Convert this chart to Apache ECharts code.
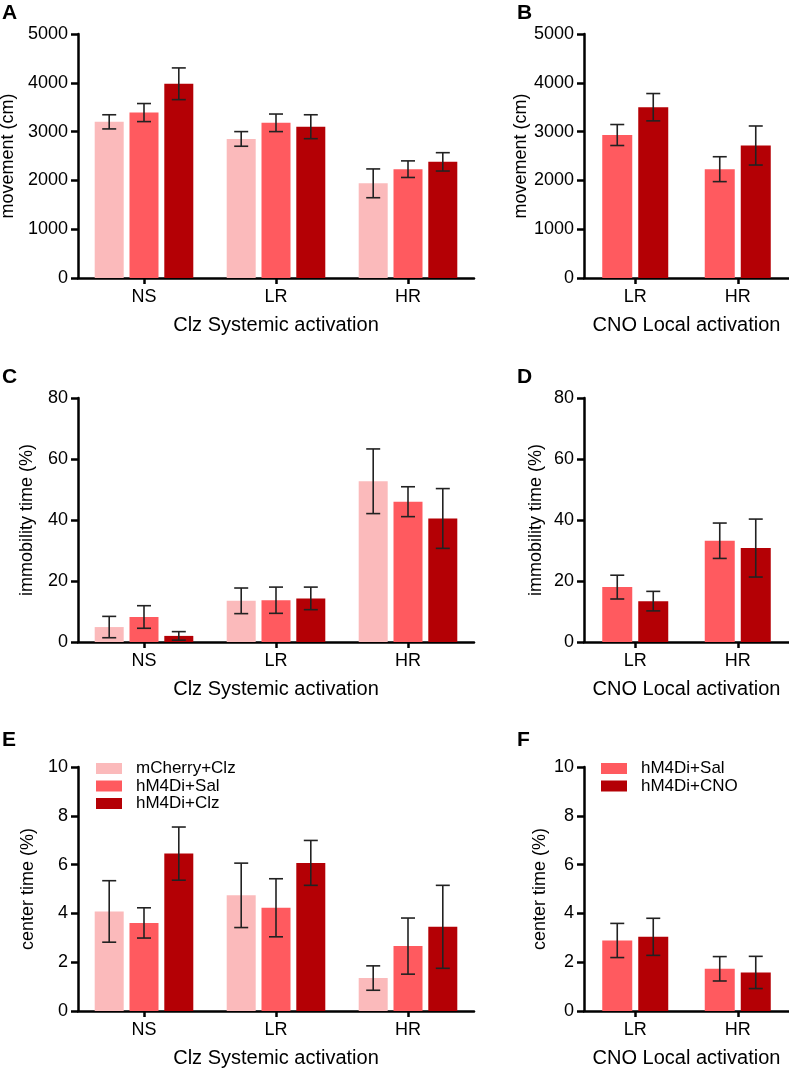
<!DOCTYPE html>
<html>
<head>
<meta charset="utf-8">
<script src="https://cdn.jsdelivr.net/npm/echarts@6/dist/echarts.min.js"></script>
<style>
  html, body { margin: 0; padding: 0; background: #fff; }
  #chart { width: 789px; height: 1070px; }
</style>
</head>
<body>
<div id="chart"></div>
<script>
// categories
const groupsClz = ['NS', 'LR', 'HR'];
const groupsCno = ['LR', 'HR'];

// movement (cm)
const moveCherryClz = [3200, 2850, 1940];
const moveCherryClzErr = [145, 150, 295];
const moveSalClz = [3390, 3180, 2230];
const moveSalClzErr = [185, 180, 170];
const moveClz = [3980, 3100, 2380];
const moveClzErr = [325, 245, 188];
const moveSalCno = [2930, 2230];
const moveSalCnoErr = [215, 255];
const moveCno = [3500, 2715];
const moveCnoErr = [280, 400];

// immobility time (%)
const immCherryClz = [4.9, 13.5, 52.7];
const immCherryClzErr = [3.5, 4.2, 10.6];
const immSalClz = [8.2, 13.7, 46.0];
const immSalClzErr = [3.7, 4.3, 4.9];
const immClz = [2.0, 14.3, 40.5];
const immClzErr = [1.4, 3.7, 9.8];
const immSalCno = [18.0, 33.2];
const immSalCnoErr = [3.9, 5.8];
const immCno = [13.4, 30.8];
const immCnoErr = [3.2, 9.5];

// center time (%)
const cenCherryClz = [4.08, 4.74, 1.35];
const cenCherryClzErr = [1.26, 1.32, 0.5];
const cenSalClz = [3.61, 4.23, 2.66];
const cenSalClzErr = [0.62, 1.19, 1.15];
const cenClz = [6.45, 6.07, 3.45];
const cenClzErr = [1.09, 0.92, 1.7];
const cenSalCno = [2.89, 1.73];
const cenSalCnoErr = [0.7, 0.5];
const cenCno = [3.04, 1.58];
const cenCnoErr = [0.76, 0.66];

const FONT = '"Liberation Sans", Arial, sans-serif';
const LIGHT = '#FBBABB';
const MID = '#FF5A5F';
const DARK = '#B40005';

// panel layout, all plots 244px tall
const panels = [
    { left: 78, top: 34, width: 396, cats: groupsClz, max: 5000, step: 1000, yName: 'movement (cm)', nameGap: 54, xName: 'Clz Systemic activation' },
    { left: 584, top: 34, width: 205, cats: groupsCno, max: 5000, step: 1000, yName: 'movement (cm)', nameGap: 49, xName: 'CNO Local activation' },
    { left: 78, top: 398, width: 396, cats: groupsClz, max: 80, step: 20, yName: 'immobility time (%)', nameGap: 42, xName: 'Clz Systemic activation' },
    { left: 584, top: 398, width: 205, cats: groupsCno, max: 80, step: 20, yName: 'immobility time (%)', nameGap: 39, xName: 'CNO Local activation' },
    { left: 78, top: 767, width: 396, cats: groupsClz, max: 10, step: 2, yName: 'center time (%)', nameGap: 33, xName: 'Clz Systemic activation' },
    { left: 584, top: 767, width: 205, cats: groupsCno, max: 10, step: 2, yName: 'center time (%)', nameGap: 35, xName: 'CNO Local activation' },
];

const axisLine = { show: true, lineStyle: { color: '#000', width: 2.5 } };
const axisTick = { show: true, length: 7, lineStyle: { color: '#000', width: 2.5 } };

const grid = [];
const xAxis = [];
const yAxis = [];
panels.forEach((p, i) => {
    grid.push({ left: p.left, top: p.top, width: p.width, height: 244, outerBoundsMode: 'none' });
    xAxis.push({
        type: 'category', gridIndex: i, data: p.cats,
        axisLine, axisTick: { ...axisTick, alignWithLabel: true, length: 6 },
        axisLabel: { color: '#000', fontSize: 18, fontFamily: FONT, margin: 10 },
        name: p.xName, nameLocation: 'middle', nameGap: 37,
        nameTextStyle: { color: '#000', fontSize: 20, fontFamily: FONT },
    });
    yAxis.push({
        type: 'value', gridIndex: i, min: 0, max: p.max, interval: p.step,
        splitLine: { show: false }, axisLine, axisTick,
        axisLabel: { color: '#000', fontSize: 18, fontFamily: FONT, margin: 10, formatter: (v) => String(v) },
        name: p.yName, nameLocation: 'middle', nameGap: p.nameGap,
        nameTextStyle: { color: '#000', fontSize: 18, fontFamily: FONT },
    });
});

const series = [];

function addBars(idx, name, color, values, errs, offset, barWidth) {
    series.push({
        type: 'bar', name, xAxisIndex: idx, yAxisIndex: idx,
        data: values, barWidth, barGap: '20%',
        itemStyle: { color }, z: 2,
    });
    series.push({
        type: 'custom', xAxisIndex: idx, yAxisIndex: idx, z: 3,
        data: values.map((v, k) => [k, v, errs[k]]),
        encode: { x: 0, y: 1 },
        renderItem(params, api) {
            const k = api.value(0);
            const m = api.value(1);
            const e = api.value(2);
            const hi = api.coord([k, m + e]);
            const lo = api.coord([k, m - e]);
            const cx = hi[0] + offset;
            const style = { stroke: '#222', lineWidth: 1.6 };
            return {
                type: 'group',
                children: [
                    { type: 'line', shape: { x1: cx, y1: hi[1], x2: cx, y2: lo[1] }, style },
                    { type: 'line', shape: { x1: cx - 7, y1: hi[1], x2: cx + 7, y2: hi[1] }, style },
                    { type: 'line', shape: { x1: cx - 7, y1: lo[1], x2: cx + 7, y2: lo[1] }, style },
                ],
            };
        },
    });
}

// left panels: 3 bars of 29px with 20% gap
const stepL = 29 * 1.2;
addBars(0, 'mCherry+Clz', LIGHT, moveCherryClz, moveCherryClzErr, -stepL, 29);
addBars(0, 'hM4Di+Sal', MID, moveSalClz, moveSalClzErr, 0, 29);
addBars(0, 'hM4Di+Clz', DARK, moveClz, moveClzErr, stepL, 29);
addBars(2, 'mCherry+Clz', LIGHT, immCherryClz, immCherryClzErr, -stepL, 29);
addBars(2, 'hM4Di+Sal', MID, immSalClz, immSalClzErr, 0, 29);
addBars(2, 'hM4Di+Clz', DARK, immClz, immClzErr, stepL, 29);
addBars(4, 'mCherry+Clz', LIGHT, cenCherryClz, cenCherryClzErr, -stepL, 29);
addBars(4, 'hM4Di+Sal', MID, cenSalClz, cenSalClzErr, 0, 29);
addBars(4, 'hM4Di+Clz', DARK, cenClz, cenClzErr, stepL, 29);

// right panels: 2 bars of 30px with 20% gap
const stepR = 30 * 1.2 / 2;
addBars(1, 'hM4Di+Sal', MID, moveSalCno, moveSalCnoErr, -stepR, 30);
addBars(1, 'hM4Di+CNO', DARK, moveCno, moveCnoErr, stepR, 30);
addBars(3, 'hM4Di+Sal', MID, immSalCno, immSalCnoErr, -stepR, 30);
addBars(3, 'hM4Di+CNO', DARK, immCno, immCnoErr, stepR, 30);
addBars(5, 'hM4Di+Sal', MID, cenSalCno, cenSalCnoErr, -stepR, 30);
addBars(5, 'hM4Di+CNO', DARK, cenCno, cenCnoErr, stepR, 30);

const legendBase = {
    orient: 'vertical', icon: 'rect', itemWidth: 26, itemHeight: 11, itemGap: 0.5,
    selectedMode: false, padding: 0,
    textStyle: { color: '#000', fontSize: 17, fontFamily: FONT, lineHeight: 16, padding: [0, 0, 0, 9] },
};

const letters = [['A', 2, 3], ['B', 517, 3], ['C', 2, 367], ['D', 517, 367], ['E', 2, 730], ['F', 517, 730]];

const chart = echarts.init(document.getElementById('chart'), null, { renderer: 'canvas' });
chart.setOption({
    animation: false,
    backgroundColor: '#fff',
    title: letters.map(([t, l, top]) => ({
        text: t, left: l, top, padding: 0,
        textStyle: { fontSize: 21, fontWeight: 'bold', color: '#000', fontFamily: FONT },
    })),
    legend: [
        { ...legendBase, left: 96, top: 760, data: ['mCherry+Clz', 'hM4Di+Sal', 'hM4Di+Clz'] },
        { ...legendBase, left: 601, top: 760, data: ['hM4Di+Sal', 'hM4Di+CNO'] },
    ],
    grid,
    xAxis,
    yAxis,
    series,
});
</script>
</body>
</html>
